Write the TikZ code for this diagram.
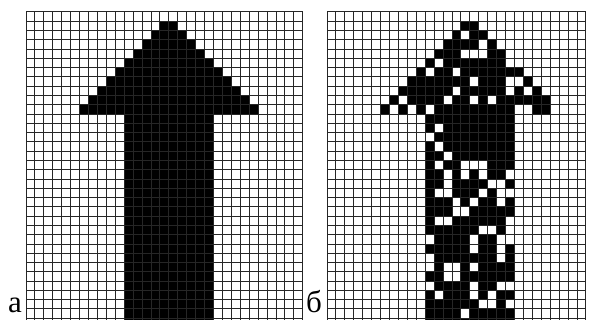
\documentclass[tikz,border=0pt]{standalone}
\usepackage{fontspec}
\setmainfont{Liberation Serif}
\begin{document}
\begin{tikzpicture}[x=1pt,y=-1pt]
\useasboundingbox (0,0) rectangle (593,320);
\def\sx{8.93}
\def\sy{9.28}
\tikzset{gridline/.style={line width=1pt,black!85},
  cell/.style={fill=black}, hole/.style={fill=white},
  label/.style={anchor=base west,font=\fontsize{31}{31}\selectfont,inner sep=0}}
% left grid
\begin{scope}[shift={(26,12)}]
  \clip (-1,-1) rectangle (31*\sx+1,309);
  \foreach \r in {1,...,10}{
    \pgfmathtruncatemacro\a{16-\r}
    \pgfmathtruncatemacro\b{16+\r}
    \fill[cell] (\a*\sx,\r*\sy) rectangle (\b*\sx,\r*\sy+\sy);
  }
  \fill[cell] (11*\sx,11*\sy) rectangle (21*\sx,40*\sy);
  \foreach \c in {0,...,31} \draw[gridline] (\c*\sx,0) -- (\c*\sx,40*\sy);
  \foreach \r in {0,...,33} \draw[gridline] (0,\r*\sy) -- (31*\sx,\r*\sy);
\end{scope}
% right grid
\begin{scope}[shift={(327,12)}]
  \clip (-1,-1) rectangle (29*\sx+1,309);
  % head: row / first col / last col
  \foreach \r/\a/\b in {1/15/16,2/14/17,3/13/18,4/12/19,5/11/19,6/10/21,
      7/9/22,8/8/23,9/7/24,10/6/24}
    \fill[cell] (\a*\sx,\r*\sy) rectangle (\b*\sx+\sx,\r*\sy+\sy);
  % shaft
  \fill[cell] (11*\sx,11*\sy) rectangle (21*\sx,40*\sy);
  % white cells inside the shape: col / row
  \foreach \c/\r in {15/2,17/3,15/4,16/4,17/4,12/5,11/6,14/6,16/7,20/7,21/7,
     14/8,20/8,22/8,8/9,13/9,16/9,18/9,7/10,9/10,11/10,21/10,22/10,
     12/12,11/13,12/14,13/15,12/16,15/16,16/16,17/16,
     13/17,15/17,17/17,20/17,13/18,18/18,19/18,
     12/19,13/19,17/19,19/19,20/19,14/20,16/20,19/20,14/21,15/21,
     12/22,13/22,20/22,17/23,18/23,20/23,11/24,16/24,19/24,20/24,
     16/25,19/25,11/26,19/26,11/27,13/27,14/27,16/27,13/28,14/28,
     11/29,16/29,19/29,20/29,12/30,16/30,18/30,17/31,18/31,20/31,15/32}
    \fill[hole] (\c*\sx,\r*\sy) rectangle (\c*\sx+\sx,\r*\sy+\sy);
  \foreach \c in {0,...,29} \draw[gridline] (\c*\sx,0) -- (\c*\sx,40*\sy);
  \foreach \r in {0,...,33} \draw[gridline] (0,\r*\sy) -- (29*\sx,\r*\sy);
\end{scope}
\node[label] (la) at (8,312.5) {а};
\node[label] (lb) at (306,312.5) {б};
\end{tikzpicture}
\end{document}
